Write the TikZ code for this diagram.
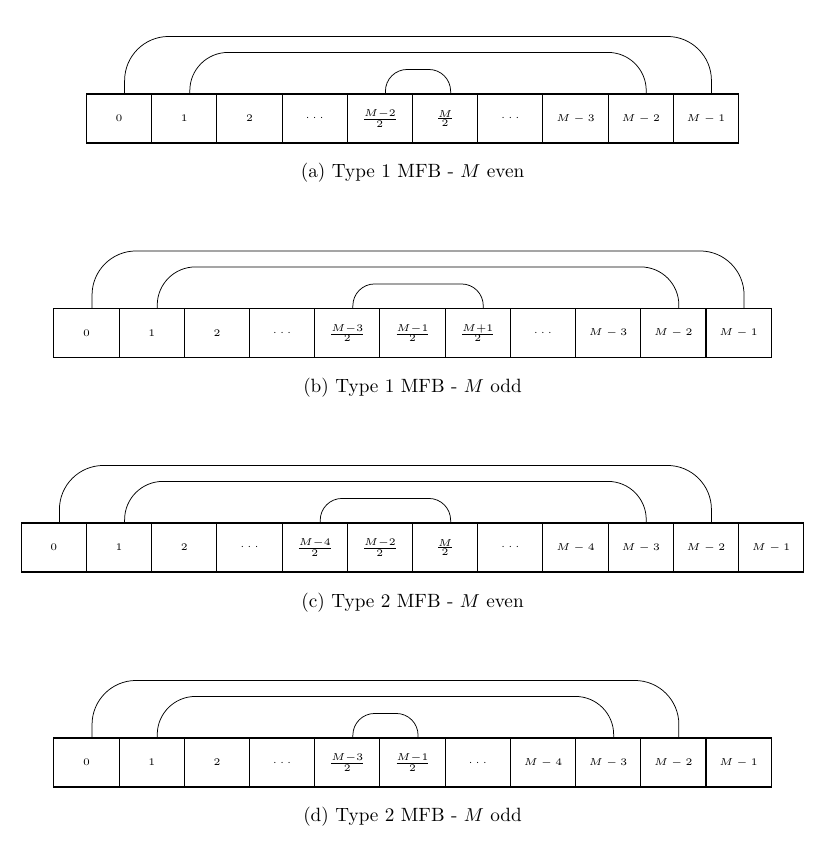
\documentclass[tikz,border=0pt]{standalone}
\usepackage{graphicx}
\usetikzlibrary{positioning}

\begin{document}
\begin{tikzpicture}[
        node distance=0pt,
        % celle del buffer: bordo nero, etichette piccole
        cell/.style={
            draw,
            line width=0.6pt,
            minimum width=1.229cm,
            minimum height=0.924cm,
            inner sep=0pt,
            font=\tiny
        },
        caption/.style={
            font=\fontsize{10.3}{12.4}\selectfont
        },
        link/.style={
            rounded corners=#1
        }
    ]

    \useasboundingbox (0,0) rectangle (15.646,-15.909);

    % --- (a) Type 1, M pari ---
    \foreach \lab [count=\i from 0] in {0,1,2,\cdots,\frac{M-2}{2},\frac{M}{2},\cdots,M-3,M-2,M-1} {
        \node[cell] (a\i) at ({2.245+1.229*\i}, -2.234) {\scalebox{1.08}{$\lab$}};
    }
    \foreach \s/\e/\h/\r in {0/9/1.074/0.83cm, 1/8/0.773/0.72cm, 4/5/0.452/0.41cm} {
        \draw[link=\r] ([xshift=0.104cm]a\s.north) -- ++(0,\h) -| ([xshift=0.104cm]a\e.north);
    }
    \node[caption] (capa) at (7.776, -3.261) {(a) Type 1 MFB - $M$ even};

    % --- (b) Type 1, M dispari ---
    \foreach \lab [count=\i from 0] in {0,1,2,\cdots,\frac{M-3}{2},\frac{M-1}{2},\frac{M+1}{2},\cdots,M-3,M-2,M-1} {
        \node[cell] (b\i) at ({1.631+1.229*\i}, -6.277) {\scalebox{1.08}{$\lab$}};
    }
    \foreach \s/\e/\h/\r in {0/10/1.074/0.83cm, 1/9/0.773/0.72cm, 4/6/0.452/0.41cm} {
        \draw[link=\r] ([xshift=0.104cm]b\s.north) -- ++(0,\h) -| ([xshift=0.104cm]b\e.north);
    }
    \node[caption] (capb) at (7.776, -7.314) {(b) Type 1 MFB - $M$ odd};

    % --- (c) Type 2, M pari ---
    \foreach \lab [count=\i from 0] in {0,1,2,\cdots,\frac{M-4}{2},\frac{M-2}{2},\frac{M}{2},\cdots,M-4,M-3,M-2,M-1} {
        \node[cell] (c\i) at ({1.016+1.229*\i}, -10.320) {\scalebox{1.08}{$\lab$}};
    }
    \foreach \s/\e/\h/\r in {0/10/1.074/0.83cm, 1/9/0.773/0.72cm, 4/6/0.452/0.41cm} {
        \draw[link=\r] ([xshift=0.104cm]c\s.north) -- ++(0,\h) -| ([xshift=0.104cm]c\e.north);
    }
    \node[caption] (capc) at (7.776, -11.367) {(c) Type 2 MFB - $M$ even};

    % --- (d) Type 2, M dispari ---
    \foreach \lab [count=\i from 0] in {0,1,2,\cdots,\frac{M-3}{2},\frac{M-1}{2},\cdots,M-4,M-3,M-2,M-1} {
        \node[cell] (d\i) at ({1.631+1.229*\i}, -14.373) {\scalebox{1.08}{$\lab$}};
    }
    \foreach \s/\e/\h/\r in {0/9/1.074/0.83cm, 1/8/0.773/0.72cm, 4/5/0.452/0.41cm} {
        \draw[link=\r] ([xshift=0.104cm]d\s.north) -- ++(0,\h) -| ([xshift=0.104cm]d\e.north);
    }
    \node[caption] (capd) at (7.776, -15.400) {(d) Type 2 MFB - $M$ odd};

\end{tikzpicture}
\end{document}
